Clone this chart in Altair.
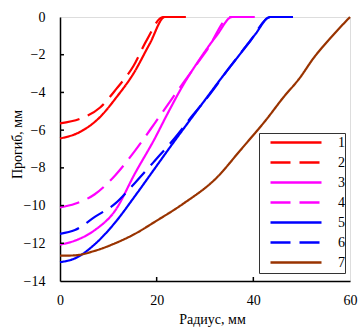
import altair as alt
import pandas as pd

series_names = ["1", "2", "3", "4", "5", "6", "7"]
colors = ["#FF0000", "#FF0000", "#FF00FF", "#FF00FF", "#0000FF", "#0000FF", "#993300"]
dashes = [[1, 0], [20, 9], [1, 0], [20, 9], [1, 0], [20, 9], [1, 0]]

x1 = [0, 4.1, 8.3, 11.7, 15.2, 18.6, 21.7, 26]
y1 = [-6.44, -6.1, -5.3, -4.25, -3.0, -1.4, 0, 0]
x2 = [0, 4.1, 8.3, 11.7, 15.2, 18.0, 21.3, 26]
y2 = [-5.64, -5.4, -4.8, -3.8, -2.6, -1.2, 0, 0]
x3 = [0, 3.1, 7.2, 11.4, 15.5, 19.7, 22.1, 25.5, 29, 32.5, 35.6, 40.3]
y3 = [-12.07, -11.86, -11.3, -10.27, -8.3, -6.4, -5.2, -3.6, -2.2, -0.95, 0, 0]
x4 = [0, 3.1, 7.2, 11.4, 15.5, 19.7, 23.4, 26.9, 30.4, 35.2, 40.3]
y4 = [-10.1, -9.9, -9.4, -8.4, -7.1, -5.6, -4.25, -3.0, -1.75, 0, 0]
x5 = [0, 3.1, 7.2, 11.4, 15.5, 19.7, 23.2, 26.5, 30, 33.5, 37, 40.3, 43.5, 48.2]
y5 = [-13.0, -12.8, -12.05, -10.9, -9.5, -8.0, -6.75, -5.6, -4.4, -3.2, -2.05, -0.95, 0, 0]
x6 = [0, 3.1, 7.2, 11.4, 15.5, 19.7, 23.8, 27.5, 31, 35, 39.3, 43.5, 48.2]
y6 = [-11.5, -11.3, -10.6, -9.9, -8.8, -7.6, -6.4, -5.2, -4.1, -2.7, -1.3, 0, 0]
x7 = [0, 3.1, 7.2, 11.4, 15.5, 19.7, 25.5, 32.5, 37.2, 42.8, 46.1, 49.7, 52.4, 56, 60]
y7 = [-12.66, -12.64, -12.4, -12.0, -11.5, -10.85, -9.9, -8.5, -7.1, -5.4, -4.3, -3.2, -2.2, -1.1, 0]

y_ticks = [-14, -12, -10, -8, -6, -4, -2, 0]
x_ticks = [0, 20, 40, 60]
y_inner_ticks = [-12, -10, -8, -6, -4, -2]
x_inner_ticks = [20, 40]

xs = [x1, x2, x3, x4, x5, x6, x7]
ys = [y1, y2, y3, y4, y5, y6, y7]
rows = []
for name, xx, yy in zip(series_names, xs, ys):
    for i, (a, b) in enumerate(zip(xx, yy)):
        rows.append({"s": name, "r": a, "d": b, "i": i})
df = pd.DataFrame(rows)

FONT = "Liberation Serif"

xscale = alt.Scale(domain=[0, 60], nice=False, zero=False)
yscale = alt.Scale(domain=[-14, 0], nice=False, zero=False)

xaxis = alt.Axis(
    values=x_ticks, title="Радиус, мм", ticks=False, tickSize=0, grid=False,
    domainColor="black", domainWidth=1.5, labelFont=FONT, labelFontSize=14,
    labelColor="black", labelPadding=12, titleFont=FONT, titleFontSize=14,
    titleFontWeight="normal", titleColor="black", titleX=152, titleY=42,
    titleAlign="center", titleBaseline="alphabetic", labelFlush=False,
    labelOverlap=False)
yaxis = alt.Axis(
    values=y_ticks, title="Прогиб, мм", ticks=False, tickSize=0, grid=False,
    domainColor="black", domainWidth=1.5, labelFont=FONT, labelFontSize=14,
    labelColor="black", labelPadding=15, titleFont=FONT, titleFontSize=14,
    titleFontWeight="normal", titleColor="black", titleX=-43, titleY=127,
    titleAngle=270, titleAlign="center", titleBaseline="middle", labelFlush=False,
    labelOverlap=False)

legend = alt.Legend(
    title=None, orient="none", legendX=199, legendY=116,
    symbolType="stroke", symbolSize=2601, symbolStrokeWidth=2.5,
    clipHeight=19.2, rowPadding=0, padding=0, symbolOffset=10, labelOffset=15,
    labelFont=FONT, labelFontSize=14, labelColor="black",
    strokeColor="#333333", fillColor="white",
)

lines = alt.Chart(df).mark_line(strokeWidth=2.2, interpolate="monotone").encode(
    x=alt.X("r:Q", scale=xscale, axis=xaxis),
    y=alt.Y("d:Q", scale=yscale, axis=yaxis),
    color=alt.Color("s:N", scale=alt.Scale(domain=series_names, range=colors), legend=legend),
    strokeDash=alt.StrokeDash("s:N", scale=alt.Scale(domain=series_names, range=dashes), legend=legend),
    order="i:Q",
)

ytick_df = pd.DataFrame({"d": y_inner_ticks})
xtick_df = pd.DataFrame({"r": x_inner_ticks})

yticks = alt.Chart(ytick_df).mark_rule(color="black", strokeWidth=1.5).encode(
    y=alt.Y("d:Q", scale=yscale, axis=yaxis), x=alt.value(0), x2=alt.value(4))
xticks = alt.Chart(xtick_df).mark_rule(color="black", strokeWidth=1.5).encode(
    x=alt.X("r:Q", scale=xscale, axis=xaxis), y=alt.value(264), y2=alt.value(260))

chart = alt.layer(lines, yticks, xticks).properties(
    width=290, height=264,
    autosize=alt.AutoSizeParams(type="none"),
    padding={"left": 60, "top": 17, "right": 8, "bottom": 53},
).configure_view(stroke="black", strokeWidth=1.5).configure(background="white")

chart.save("out.html", embed_options={"renderer": "svg", "actions": False})
